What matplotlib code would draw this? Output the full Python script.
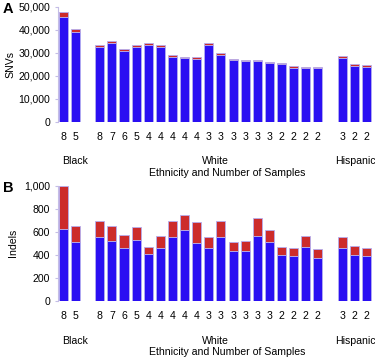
import numpy as np
import matplotlib.pyplot as plt

plt.rcParams['font.family'] = ['Liberation Sans', 'DejaVu Sans']

# sample counts per bar, grouped by ethnicity
black_n = [8, 5]
white_n = [8, 7, 6, 5, 4, 4, 4, 4, 4, 3, 3, 3, 3, 3, 3, 2, 2, 2, 2]
hisp_n = [3, 2, 2]

# panel A: SNVs (blue part + red part on top)
snv_blue = [45700, 39000,
            32500, 34100, 30900, 32500, 33400, 32500, 28300, 27600, 27500,
            33500, 29100, 26900, 26300, 26300, 25400, 25200, 23500, 23400, 23400,
            27900, 24400, 24000]
snv_total = [47800, 40200,
             33400, 35000, 31500, 33500, 34100, 33400, 29100, 28200, 28000,
             34100, 29800, 27300, 26900, 26900, 26000, 25700, 24100, 23800, 23800,
             28600, 25000, 24600]

# panel B: indels
indel_blue = [625, 515,
              552, 520, 462, 526, 407, 462, 558, 616, 500,
              456, 558, 430, 436, 561, 515, 401, 392, 471, 369,
              456, 401, 392]
indel_total = [1000, 654,
               692, 648, 573, 640, 471, 564, 692, 744, 683,
               552, 692, 515, 523, 721, 616, 468, 456, 567, 448,
               555, 474, 459]

labels = black_n + white_n + hisp_n
# one empty slot between groups
pos = list(range(0, 2)) + list(range(3, 22)) + list(range(23, 26))

blue = '#2a0ff2'
red = '#cc2b2b'
edge = '#b4aef0'
spine = '#c4bde6'
fs = 7.6

W, H = 375, 359
fig = plt.figure(figsize=(W / 100, H / 100), dpi=100)


def panel(box, b, t, ymax, step, ylab, letter, ylab_x, letter_y, text_y):
    ax = fig.add_axes(box)
    b = np.array(b)
    t = np.array(t)
    ax.bar(pos, b, width=0.75, color=blue, edgecolor=edge, linewidth=0.6)
    ax.bar(pos, t - b, bottom=b, width=0.75, color=red, edgecolor=edge, linewidth=0.6)
    ax.set_xlim(-0.45, 25.55)
    ax.set_ylim(0, ymax)
    ax.set_yticks(np.arange(0, ymax + 1, step))
    ax.set_yticklabels([f'{v:,}' for v in np.arange(0, ymax + 1, step)])
    ax.set_xticks(pos)
    ax.set_xticklabels([str(n) for n in labels])
    ax.tick_params(axis='x', length=0, pad=7.5, labelsize=fs)
    ax.tick_params(axis='y', length=2.5, pad=3, labelsize=fs, color=spine, width=0.8)
    for s in ['top', 'right', 'bottom']:
        ax.spines[s].set_visible(False)
    ax.spines['left'].set_color(spine)
    ax.spines['left'].set_linewidth(0.8)
    fig.text(ylab_x / W, (box[1] + box[3] / 2), ylab, rotation=90,
             ha='center', va='center', fontsize=fs)
    fig.text(3 / W, 1 - letter_y / H, letter, fontsize=10.5,
             fontweight='bold', ha='left', va='center')
    y0, y1 = text_y
    fig.text(75 / W, 1 - y0 / H, 'Black', ha='center', va='center', fontsize=fs)
    fig.text(215 / W, 1 - y0 / H, 'White', ha='center', va='center', fontsize=fs)
    fig.text(355 / W, 1 - y0 / H, 'Hispanic', ha='center', va='center', fontsize=fs)
    fig.text(227 / W, 1 - y1 / H, 'Ethnicity and Number of Samples',
             ha='center', va='center', fontsize=fs)
    return ax


panel([58 / W, 1 - 122 / H, 315 / W, 115.3 / H], snv_blue, snv_total,
      50000, 10000, 'SNVs', 'A', 10, 9, (161, 173))
panel([58 / W, 1 - 300.7 / H, 315 / W, 114.7 / H], indel_blue, indel_total,
      1000, 200, 'Indels', 'B', 13, 188, (341, 352))

fig.savefig('out.png', dpi=100)
